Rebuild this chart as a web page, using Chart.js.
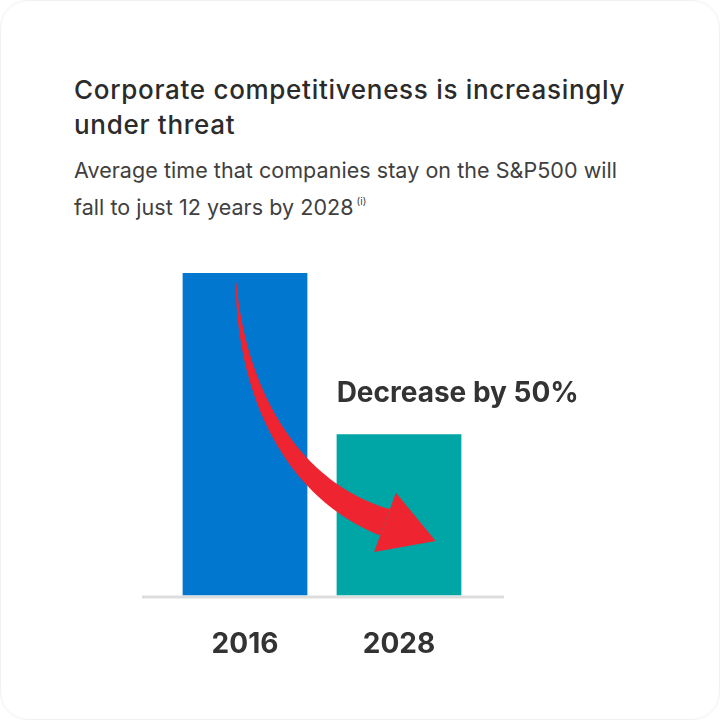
<!DOCTYPE html>
<html>
<head>
<meta charset="utf-8">
<script src="https://cdn.jsdelivr.net/npm/chart.js@4"></script>
<style>
  html, body { margin: 0; padding: 0; background: #fff; }
  #card {
    position: relative; width: 718px; height: 718px;
    border: 1px solid #f1f1f1; border-radius: 28px; overflow: hidden;
    font-family: Inter, "Open Sans", sans-serif; color: #2b2b2b;
  }
  #title {
    position: absolute; left: 73px; top: 71px; width: 600px;
    font-size: 26px; font-weight: 500; line-height: 35px; letter-spacing: 0.7px;
  }
  #sub {
    position: absolute; left: 73px; top: 154px; width: 575px;
    font-size: 21.5px; font-weight: 400; line-height: 31px; color: #404040;
    letter-spacing: 0.05px;
  }
  #sub sup { font-size: 10px; vertical-align: 10px; margin-left: 3px; letter-spacing: 0; }
  canvas { position: absolute; left: 0; top: 0; }
</style>
</head>
<body>
<div id="card">
  <div id="title">Corporate competitiveness is increasingly<br>under threat</div>
  <div id="sub">Average time that companies stay on the S&amp;P500 will<br>fall to just 12 years by 2028<sup>(i)</sup></div>
  <canvas id="chart" width="720" height="720"></canvas>
</div>
<script>
  // === DATA ===
  const years = ["2016", "2028"];
  const avgYears = [24, 12];
  const barColors = ["#0277cf", "#00a5a5"];
  const note = "Decrease by 50%";

  // baseline under the bars
  const baselinePlugin = {
    id: "baseline",
    beforeDatasetsDraw(chart) {
      const { ctx, chartArea, scales } = chart;
      const x0 = scales.x.getPixelForValue(0) - 103;
      const x1 = scales.x.getPixelForValue(1) + 105;
      ctx.save();
      ctx.strokeStyle = "#dddddd";
      ctx.lineWidth = 3;
      ctx.beginPath();
      ctx.moveTo(x0, chartArea.bottom + 1.5);
      ctx.lineTo(x1, chartArea.bottom + 1.5);
      ctx.stroke();
      ctx.restore();
    }
  };

  // curved red arrow + "Decrease by 50%" note
  const arrowPlugin = {
    id: "arrow",
    afterDatasetsDraw(chart) {
      const { ctx, scales } = chart;
      const bars = chart.getDatasetMeta(0).data;
      const b0 = bars[0], b1 = bars[1];
      const x0 = b0.x, y0 = b0.y;
      const bx1 = b1.x;
      const yb = scales.y.getPixelForValue(0);

      const p0 = { x: x0 - 9, y: y0 + 10 };
      const p1 = { x: x0 - 4, y: y0 + 110 };
      const p2 = { x: bx1 - 114, y: yb - 108 };
      const p3 = { x: bx1 - 14, y: yb - 73 };

      const pt = t => {
        const u = 1 - t;
        return {
          x: u*u*u*p0.x + 3*u*u*t*p1.x + 3*u*t*t*p2.x + t*t*t*p3.x,
          y: u*u*u*p0.y + 3*u*u*t*p1.y + 3*u*t*t*p2.y + t*t*t*p3.y
        };
      };
      const left = [], right = [];
      const n = 60;
      for (let i = 0; i <= n; i++) {
        const t = i / n;
        const a = pt(Math.max(0, t - 0.01)), b = pt(Math.min(1, t + 0.01));
        let dx = b.x - a.x, dy = b.y - a.y;
        const len = Math.hypot(dx, dy);
        dx /= len; dy /= len;
        const c = pt(t);
        const w = (1 + 27 * Math.pow(t, 1.1)) / 2;
        left.push({ x: c.x - dy * w, y: c.y + dx * w });
        right.push({ x: c.x + dy * w, y: c.y - dx * w });
      }
      ctx.save();
      ctx.fillStyle = "#ee2531";
      ctx.beginPath();
      left.forEach((p, i) => i ? ctx.lineTo(p.x, p.y) : ctx.moveTo(p.x, p.y));
      for (let i = right.length - 1; i >= 0; i--) ctx.lineTo(right[i].x, right[i].y);
      ctx.closePath();
      ctx.fill();

      // head
      const e = pt(1), d = pt(0.98);
      let ux = e.x - d.x, uy = e.y - d.y;
      const ul = Math.hypot(ux, uy);
      ux /= ul; uy /= ul;
      const hw = 31.5, hl = 54;
      ctx.beginPath();
      ctx.moveTo(e.x - uy * hw, e.y + ux * hw);
      ctx.lineTo(e.x + uy * hw, e.y - ux * hw);
      ctx.lineTo(e.x + ux * hl, e.y + uy * hl);
      ctx.closePath();
      ctx.fill();

      // note
      ctx.fillStyle = "#333333";
      ctx.font = "700 28px Inter, sans-serif";
      ctx.textAlign = "left";
      ctx.textBaseline = "middle";
      ctx.fillText(note, b1.x - b1.width / 2, scales.y.getPixelForValue(15));
      ctx.restore();
    }
  };

  new Chart(document.getElementById("chart"), {
    type: "bar",
    data: {
      labels: years,
      datasets: [{
        data: avgYears,
        backgroundColor: barColors,
        borderWidth: 0,
        categoryPercentage: 1,
        barPercentage: 0.81
      }]
    },
    options: {
      responsive: false,
      animation: false,
      events: [],
      layout: { padding: { top: 245, bottom: 36, left: 167, right: 245 } },
      plugins: { legend: { display: false }, tooltip: { enabled: false } },
      scales: {
        x: {
          grid: { display: false },
          border: { display: false },
          ticks: {
            padding: 24,
            color: "#333333",
            font: { family: "Inter", size: 28, weight: "700" }
          }
        },
        y: {
          display: false,
          min: 0,
          max: 26
        }
      }
    },
    plugins: [baselinePlugin, arrowPlugin]
  });
</script>
</body>
</html>
